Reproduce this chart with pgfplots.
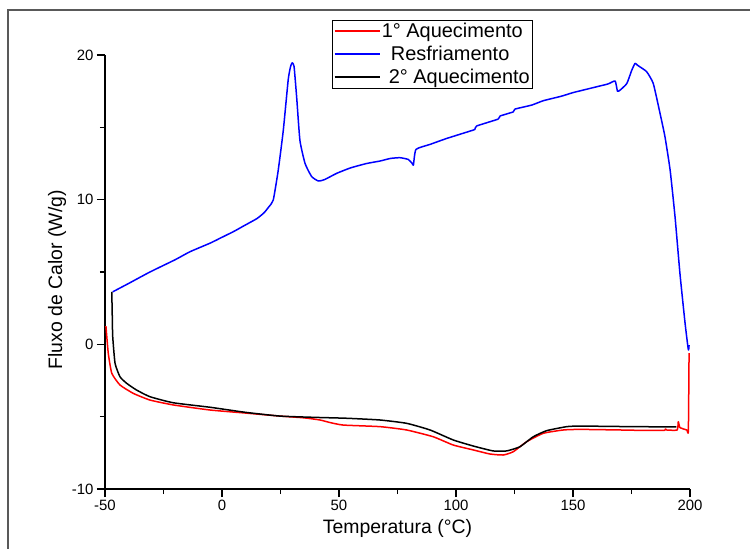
\documentclass[border=0pt]{standalone}
\usepackage{pgfplots}
\pgfplotsset{compat=1.18}
\usepackage{fontspec}
\setmainfont{Liberation Sans}
\begin{document}
\begin{tikzpicture}
\path[use as bounding box] (-105bp,-60bp) rectangle (645bp,489bp);
\draw[gray!70!black, line width=1.2bp] (-97bp,-70bp) -- (-97bp,479bp) -- (660bp,479bp);
\begin{axis}[
  scale only axis, width=585bp, height=434bp,
  xmin=-50, xmax=200, ymin=-10, ymax=20,
  axis x line*=bottom, axis y line*=left,
  axis line style={line width=1.2bp},
  xtick={-50,0,50,100,150,200}, ytick={-10,0,10,20},
  minor x tick num=1, minor y tick num=1,
  tick align=outside,
  major tick length=8bp, minor tick length=5bp,
  every tick/.style={line width=1.1bp, black},
  tick label style={font=\fontsize{15}{15}\selectfont},
  /pgf/number format/assume math mode=true,
  xlabel={Temperatura (°C)}, ylabel={Fluxo de Calor (W/g)},
  label style={font=\fontsize{19.5}{19.5}\selectfont},
  xlabel style={at={(rel axis cs:0.5,-0.09)}, anchor=center},
  ylabel style={at={(rel axis cs:-0.082,0.482)}, anchor=center},
  legend style={at={(rel axis cs:0.388,1.081)}, anchor=north west, draw=black, line width=0.8bp,
    font=\fontsize{20}{20}\selectfont, inner sep=1.5pt, row sep=4pt,
    nodes={inner sep=1.5pt}},
  legend cell align=left,
  legend image code/.code={\draw[#1] (0bp,0bp) -- (45bp,0bp);},
  every axis plot/.append style={line join=round},
]
\addplot[color=red, line width=1.5bp, smooth, tension=0.3] coordinates {
(-49.6,1.26) (-48.6,-0.62) (-47.1,-2.0) (-43.6,-2.81) (-37.9,-3.39) (-30.8,-3.85) (-20.8,-4.19) (-5.1,-4.54) (10,-4.75) (24.8,-4.96) (35,-5.08) (41.9,-5.23) (46,-5.4) (51.8,-5.58) (67.5,-5.69) (78.9,-5.92) (90.3,-6.39) (98.8,-6.96) (107.4,-7.3) (114.5,-7.58) (120.2,-7.65) (124.5,-7.42) (130.2,-6.73) (137.3,-6.15) (145.9,-5.92) (153,-5.88) (170,-5.92) (180,-5.95) (189,-5.95) (189.5,-5.85) (190,-5.92) (194.5,-5.92) (195,-5.35) (195.7,-5.75) (198.6,-5.92) (199.3,-5.95) (199.6,-0.6)
};
\addlegendentry{1° Aquecimento}
\addplot[color=blue, line width=1.5bp, smooth, tension=0.3] coordinates {
(-46.7,3.63) (-40,4.2) (-30.8,5.0) (-20,5.85) (-13.7,6.4) (-5,7.0) (0,7.4) (5,7.8) (10,8.25) (15,8.7) (18,9.1) (20,9.5) (21.9,9.97) (24,12) (26.2,14.8) (28.3,18.3) (29.3,19.2) (30,19.46) (30.8,19.2) (31.9,17.1) (33.3,14.1) (35.5,12.5) (38.3,11.6) (41.2,11.29) (44,11.4) (49,11.82) (55,12.2) (61.8,12.5) (67.5,12.67) (72,12.85) (76.1,12.9) (79.6,12.78) (81.3,12.5) (81.8,12.39) (82.9,13.47) (88.9,13.82) (96,14.23) (106,14.74) (108.1,14.86) (108.8,15.09) (118,15.57) (118.8,15.78) (124.5,16.07) (125.2,16.26) (132.4,16.54) (137.3,16.84) (145,17.15) (150,17.4) (155,17.6) (160,17.8) (165,18.0) (168,18.2) (169,17.5) (170.1,17.57) (173,18.03) (175,18.9) (176.5,19.42) (177.5,19.3) (178.6,19.18) (181.5,18.84) (184.3,18.03) (187.2,15.96) (189.3,14.35) (191.5,12.05) (193.6,8.82) (195.7,4.9) (197.9,1.45) (199.3,-0.39) (199.6,-0.05)
};
\addlegendentry{\hspace{9bp}Resfriamento}
\addplot[color=black, line width=1.5bp, smooth, tension=0.3] coordinates {
(-47.1,3.63) (-46.9,2.0) (-46.7,0.53) (-45.7,-1.31) (-43.6,-2.24) (-40.7,-2.7) (-36.5,-3.16) (-30.8,-3.62) (-20.8,-4.04) (-5.1,-4.35) (10,-4.7) (24.8,-4.96) (40,-5.05) (53.3,-5.11) (67.5,-5.23) (78.9,-5.46) (88.9,-5.92) (98.8,-6.61) (107.4,-7.03) (115.9,-7.37) (121.6,-7.37) (127.3,-7.08) (133,-6.39) (138.7,-5.97) (147.3,-5.69) (153,-5.65) (170,-5.68) (185,-5.7) (194.2,-5.7)
};
\addlegendentry{\hspace{7bp}2° Aquecimento}
\end{axis}
\end{tikzpicture}
\end{document}
